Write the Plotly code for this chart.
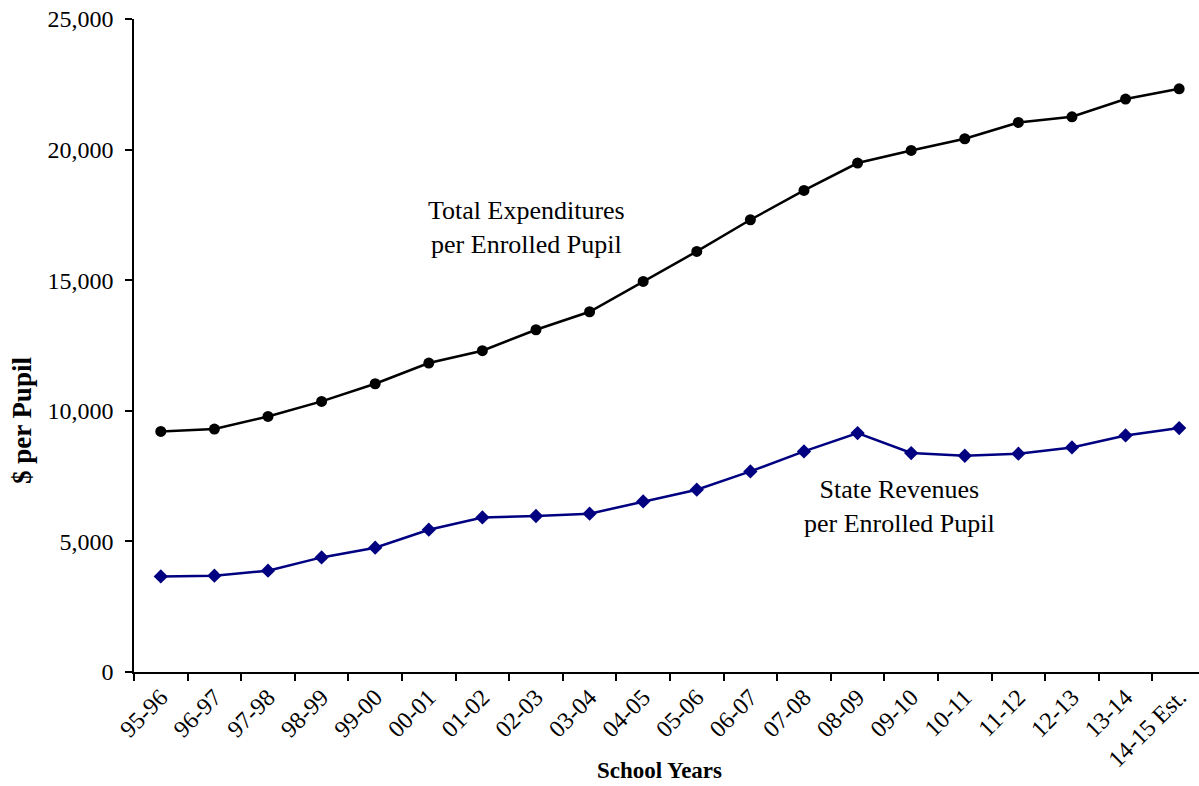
import plotly.graph_objects as go

# School years on the category axis
school_years = ["95-96", "96-97", "97-98", "98-99", "99-00", "00-01", "01-02",
                "02-03", "03-04", "04-05", "05-06", "06-07", "07-08", "08-09",
                "09-10", "10-11", "11-12", "12-13", "13-14", "14-15 Est."]

# Dollars per enrolled pupil
total_expenditures = [9210, 9302, 9784, 10359, 11036, 11829, 12300, 13103, 13792,
                      14952, 16101, 17314, 18436, 19485, 19967, 20415, 21039,
                      21257, 21934, 22329]
state_revenues = [3660, 3686, 3878, 4387, 4758, 5447, 5918, 5972, 6060, 6531,
                  6979, 7679, 8445, 9149, 8383, 8280, 8357, 8598, 9057, 9340]

y_ticks = [0, 5000, 10000, 15000, 20000, 25000]

FONT = "Liberation Serif"

fig = go.Figure()

fig.add_trace(go.Scatter(
    x=school_years, y=total_expenditures, mode="lines+markers",
    line=dict(color="#000000", width=2.5),
    marker=dict(symbol="circle", size=11, color="#000000"),
    showlegend=False,
))

fig.add_trace(go.Scatter(
    x=school_years, y=state_revenues, mode="lines+markers",
    line=dict(color="#000080", width=2.5),
    marker=dict(symbol="diamond", size=11, color="#000080"),
    showlegend=False,
))

# Series labels written inside the plot area
fig.add_annotation(text="Total Expenditures<br>per Enrolled Pupil",
                   xref="paper", yref="paper", x=0.369, y=0.68,
                   xanchor="center", yanchor="middle",
                   showarrow=False, font=dict(family=FONT, size=26, color="#000"))
fig.add_annotation(text="State Revenues<br>per Enrolled Pupil",
                   xref="paper", yref="paper", x=0.719, y=0.253,
                   xanchor="center", yanchor="middle",
                   showarrow=False, font=dict(family=FONT, size=26, color="#000"))

# Axis titles
fig.add_annotation(text="<b>$ per Pupil</b>", textangle=-90,
                   xref="paper", yref="paper", x=-0.105, y=0.386,
                   xanchor="center", yanchor="middle",
                   showarrow=False, font=dict(family=FONT, size=27, color="#000"))
fig.add_annotation(text="<b>School Years</b>",
                   xref="paper", yref="paper", x=0.4935, y=-0.1515,
                   xanchor="center", yanchor="middle",
                   showarrow=False, font=dict(family=FONT, size=23, color="#000"))

fig.update_xaxes(
    type="category", range=[-0.5, 19.37],
    showline=True, linecolor="#000", linewidth=1.5,
    ticks="outside", tickson="boundaries", ticklen=7, tickwidth=1.5, tickcolor="#000",
    tickangle=-45, tickfont=dict(family=FONT, size=24, color="#000"),
    showgrid=False, zeroline=False,
)
fig.update_yaxes(
    range=[0, 25000], tickvals=y_ticks, tickformat=",",
    showline=True, linecolor="#000", linewidth=1.5,
    ticks="outside", ticklen=7, tickwidth=1.5, tickcolor="#000",
    ticklabelstandoff=7,
    tickfont=dict(family=FONT, size=24, color="#000"),
    showgrid=False, zeroline=False,
)

fig.update_layout(
    width=1199, height=786,
    margin=dict(l=134, r=0, t=19, b=114),
    plot_bgcolor="#ffffff", paper_bgcolor="#ffffff",
    font=dict(family=FONT, color="#000"),
)

fig.write_html("out.html")
